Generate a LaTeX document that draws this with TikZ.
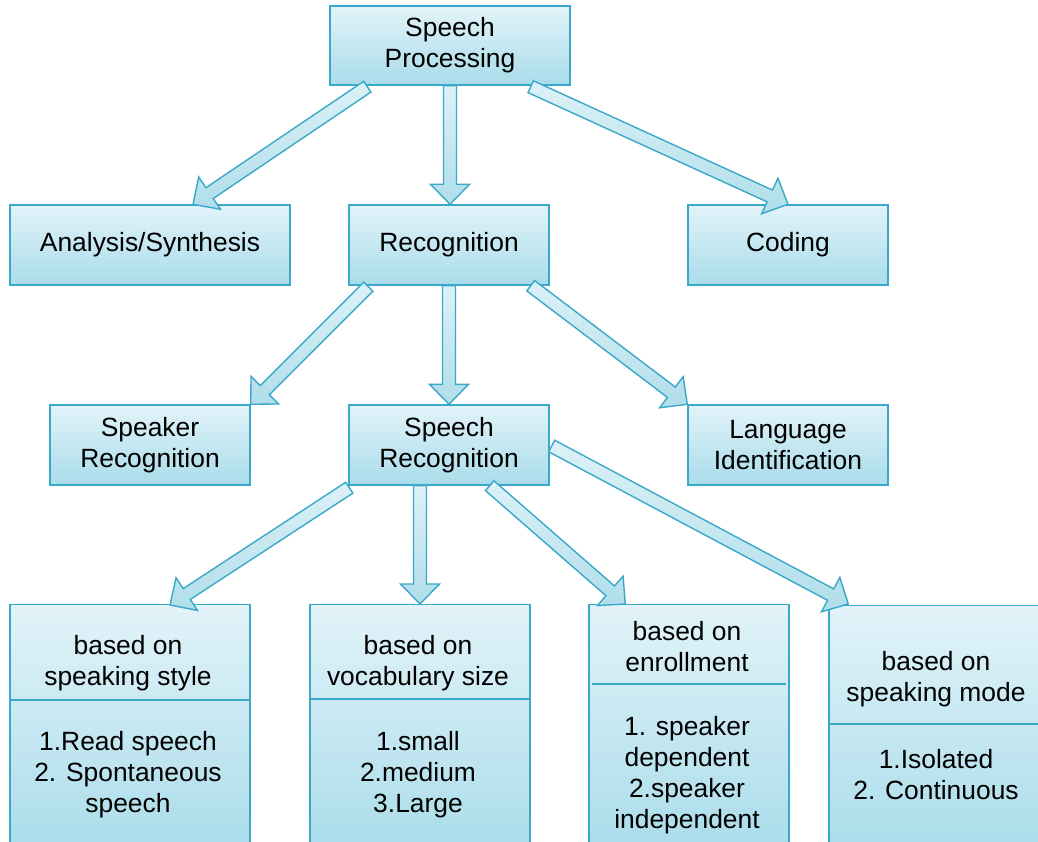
\documentclass[tikz,border=0pt]{standalone}
\usepackage{fontspec}
\setmainfont{Liberation Sans}
\usetikzlibrary{calc}

\definecolor{boxline}{HTML}{3AA8C8}
\definecolor{boxtop}{HTML}{E2F3F9}
\definecolor{boxbot}{HTML}{A9DCEA}
\definecolor{arrtop}{HTML}{DDF1F7}
\definecolor{arrbot}{HTML}{B0DEEA}

\newcommand\arrhalf{6.5pt}
\newcommand\headhalf{19.5pt}
\newcommand\headlen{20pt}
% thick hollow arrow from #1 to #2
\newcommand\blockarrow[2]{%
  \path (#1) coordinate (ba-s) (#2) coordinate (ba-e);
  \draw[block arrow] ($(ba-s)!\arrhalf!90:(ba-e)$)
    -- ($(ba-e)!\headlen!(ba-s)!\arrhalf!-90:(ba-s)$)
    -- ($(ba-e)!\headlen!(ba-s)!\headhalf!-90:(ba-s)$)
    -- (ba-e)
    -- ($(ba-e)!\headlen!(ba-s)!\headhalf!90:(ba-s)$)
    -- ($(ba-e)!\headlen!(ba-s)!\arrhalf!90:(ba-s)$)
    -- ($(ba-s)!\arrhalf!-90:(ba-e)$) -- cycle;}

\begin{document}
\begin{tikzpicture}[x=1pt, y=-1pt,
  main node/.style={draw=boxline, line width=1.4pt, top color=boxtop, bottom color=boxbot, align=center, inner sep=0pt, minimum width=200pt, minimum height=80pt, font=\fontsize{26.4}{31}\selectfont},
  list node/.style={main node, anchor=north, minimum height=250pt},
  list text/.style={align=center, inner sep=0pt, font=\fontsize{26.4}{31}\selectfont},
  divider/.style={draw=boxline, line width=1.4pt},
  block arrow/.style={draw=boxline, line width=1.4pt, line join=miter, top color=arrtop, bottom color=arrbot}]
\clip (0,0) rectangle (1038,842);

\node[main node, minimum width=240pt, minimum height=79pt] (sp) at (450,45.5) {Speech\\Processing};
\node[main node, minimum width=280pt] (ana) at (150,245) {Analysis/Synthesis};
\node[main node] (rec) at (449,245) {Recognition};
\node[main node] (cod) at (788,245) {Coding};
\node[main node] (spk) at (150,445) {Speaker\\Recognition};
\node[main node] (srec) at (449,445) {Speech\\Recognition};
\node[main node] (lang) at (788,445) {Language\\Identification};

% bottom columns
\node[list node, minimum width=240pt] (style) at (130,604) {};
\node[list node, minimum width=220pt] (vocab) at (420,604) {};
\node[list node] (enrol) at (689,604) {};
\node[list node, minimum width=214pt] (mode) at (936,605) {};

\draw[divider] ($(style.north west)+(0,96)$) -- ($(style.north east)+(0,96)$);
\draw[divider] ($(vocab.north west)+(0,95)$) -- ($(vocab.north east)+(0,95)$);
\draw[divider] ($(enrol.north west)+(4,80)$) -- ($(enrol.north east)+(-4,80)$);
\draw[divider] ($(mode.north west)+(0,119)$) -- ($(mode.north east)+(0,119)$);

\node[list text] (style-h) at (128,663) {based on\\speaking style};
\node[list text] (style-b) at (128,775) {1.Read speech\\2. Spontaneous\\speech};
\node[list text] (vocab-h) at (418,663) {based on\\vocabulary size};
\node[list text] (vocab-b) at (418,775) {1.small\\2.medium\\3.Large};
\node[list text] (enrol-h) at (687,647) {based on\\enrollment};
\node[list text] (enrol-b) at (687,775) {1. speaker\\dependent\\2.speaker\\independent};
\node[list text] (mode-h) at (936,679) {based on\\speaking mode};
\node[list text] (mode-b) at (936,775) {1.Isolated\\2. Continuous};

% arrows
\blockarrow{$(sp.south west)+(38,1)$}{$(ana.north)+(43,0)$}
\blockarrow{sp.south}{sp.south |- rec.north}
\blockarrow{$(sp.south east)+(-40,1)$}{cod.north}
\blockarrow{$(rec.south west)+(20,1)$}{spk.north east}
\blockarrow{rec.south}{rec.south |- srec.north}
\blockarrow{$(rec.south east)+(-19,0)$}{lang.north west}
\blockarrow{$(srec.south west)+(1,2)$}{$(style.north)+(40,1)$}
\blockarrow{srec.south -| vocab.north}{vocab.north}
\blockarrow{$(srec.south east)+(-60,0)$}{$(enrol.north west)+(37,0)$}
\blockarrow{$(srec.east)+(2,1)$}{$(mode.north west)+(20,-1)$}
\end{tikzpicture}
\end{document}
